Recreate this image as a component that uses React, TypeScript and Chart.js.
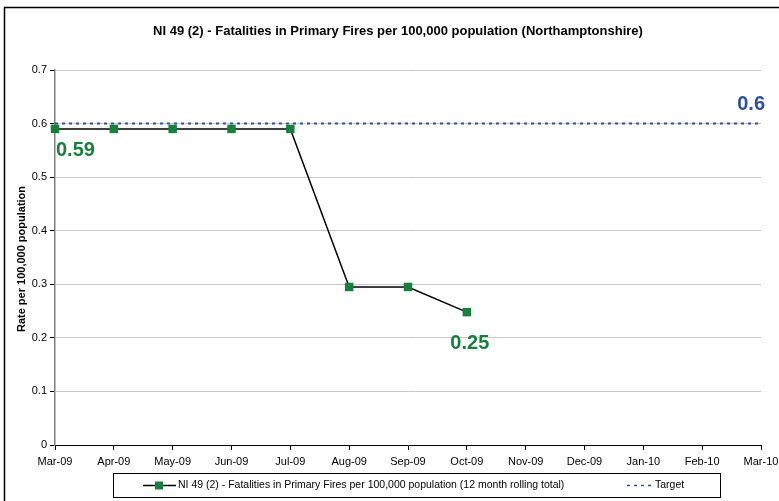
import React, { useEffect, useRef } from "react";
import { Chart, registerables } from "chart.js";

Chart.register(...registerables);

const categories = ["Mar-09", "Apr-09", "May-09", "Jun-09", "Jul-09", "Aug-09", "Sep-09", "Oct-09", "Nov-09", "Dec-09", "Jan-10", "Feb-10", "Mar-10"];
const rateValues: (number | null)[] = [0.59, 0.59, 0.59, 0.59, 0.59, 0.295, 0.295, 0.248, null, null, null, null, null];
const targetValues = [0.6, 0.6, 0.6, 0.6, 0.6, 0.6, 0.6, 0.6, 0.6, 0.6, 0.6, 0.6, 0.6];
const yTicks = [0, 0.1, 0.2, 0.3, 0.4, 0.5, 0.6, 0.7];

const titleText = "NI 49 (2) - Fatalities in Primary Fires per 100,000 population (Northamptonshire)";
const rateLabel = "NI 49 (2) - Fatalities in Primary Fires per 100,000 population (12 month rolling total)";
const targetLabel = "Target";
const yTitle = "Rate per 100,000 population";

const FONT = "'Liberation Sans', Arial, sans-serif";
const GREEN = "#17803d";
const BLUE = "#2f4f9f";

const decorPlugin = {
  id: "decor",
  afterDraw(chart: any) {
    const ctx = chart.ctx as CanvasRenderingContext2D;
    const xs = chart.scales.x;
    const ys = chart.scales.y;
    ctx.save();
    // outer border
    ctx.strokeStyle = "#000";
    ctx.lineWidth = 1.5;
    ctx.strokeRect(4.5, 7.5, 800, 520);
    // title
    ctx.fillStyle = "#000";
    ctx.font = `bold 13px ${FONT}`;
    ctx.textAlign = "center";
    ctx.textBaseline = "middle";
    ctx.fillText(titleText, 398, 31);
    // y title
    ctx.save();
    ctx.translate(22, 259);
    ctx.rotate(-Math.PI / 2);
    ctx.font = `bold 11px ${FONT}`;
    ctx.fillText(yTitle, 0, 0);
    ctx.restore();
    // data labels
    ctx.font = `bold 20px ${FONT}`;
    ctx.fillStyle = GREEN;
    ctx.textAlign = "left";
    ctx.fillText("0.59", xs.getPixelForValue(0) + 1, ys.getPixelForValue(rateValues[0] as number) + 22);
    ctx.textAlign = "center";
    ctx.fillText("0.25", xs.getPixelForValue(7) + 3, ys.getPixelForValue(rateValues[7] as number) + 31);
    ctx.fillStyle = BLUE;
    ctx.textAlign = "right";
    ctx.fillText("0.6", xs.getPixelForValue(12) + 4, ys.getPixelForValue(targetValues[12]) - 19);
    // legend
    const lx = 113.5, ly = 473.5, lw = 607, lh = 24;
    ctx.strokeStyle = "#000";
    ctx.lineWidth = 1;
    ctx.strokeRect(lx, ly, lw, lh);
    const cy = ly + lh / 2;
    ctx.beginPath();
    ctx.moveTo(143, cy);
    ctx.lineTo(176, cy);
    ctx.lineWidth = 1.5;
    ctx.stroke();
    ctx.fillStyle = GREEN;
    ctx.fillRect(155, cy - 4, 8, 8);
    ctx.fillStyle = "#000";
    ctx.font = `10.5px ${FONT}`;
    ctx.textAlign = "left";
    ctx.fillText(rateLabel, 178, cy);
    ctx.strokeStyle = BLUE;
    ctx.lineWidth = 1.5;
    ctx.setLineDash([3, 4]);
    ctx.beginPath();
    ctx.moveTo(627, cy);
    ctx.lineTo(652, cy);
    ctx.stroke();
    ctx.setLineDash([]);
    ctx.fillText(targetLabel, 655, cy);
    ctx.restore();
  },
};

export default function App() {
  const ref = useRef<HTMLCanvasElement | null>(null);
  useEffect(() => {
    document.body.style.margin = "0";
    const canvas = ref.current!;
    const chart = new Chart(canvas, {
      type: "line",
      data: {
        labels: categories,
        datasets: [
          {
            label: rateLabel,
            data: rateValues,
            borderColor: "#000",
            borderWidth: 1.5,
            pointStyle: "rect",
            pointRadius: 6,
            pointBackgroundColor: GREEN,
            pointBorderColor: GREEN,
            pointBorderWidth: 0,
            spanGaps: false,
            order: 1,
          },
          {
            label: targetLabel,
            data: targetValues,
            borderColor: BLUE,
            borderWidth: 2,
            borderDash: [3, 4],
            pointRadius: 0,
            order: 2,
          },
        ],
      },
      options: {
        animation: false,
        responsive: false,
        layout: { padding: { left: 0, right: 18, top: 70, bottom: 0 } },
        plugins: {
          legend: { display: false },
          title: { display: false },
          tooltip: { enabled: false },
        },
        scales: {
          x: {
            offset: false,
            grid: { drawOnChartArea: false, drawTicks: true, tickLength: 5, tickColor: "#000" },
            border: { color: "#000", width: 1 },
            ticks: { color: "#000", font: { family: FONT, size: 11 }, maxRotation: 0, autoSkip: false, padding: 5 },
            afterFit: (s: any) => { s.height = 56; s.paddingLeft = 0; s.paddingRight = 0; },
          },
          y: {
            min: 0,
            max: 0.7,
            afterBuildTicks: (s: any) => { s.ticks = yTicks.map((v) => ({ value: v })); },
            grid: { color: "#c8c8c8", lineWidth: 1, drawTicks: true, tickLength: 5, tickColor: "#000" },
            border: { color: "#808080", width: 1.5 },
            ticks: { color: "#000", font: { family: FONT, size: 11 }, padding: 3, callback: (v: any) => String(Math.round(Number(v) * 10) / 10) },
            afterFit: (s: any) => { s.width = 55; s.paddingTop = 0; s.paddingBottom = 0; },
          },
        },
      },
      plugins: [decorPlugin],
    });
    return () => chart.destroy();
  }, []);
  return <canvas ref={ref} width={779} height={501} style={{ display: "block" }} />;
}
